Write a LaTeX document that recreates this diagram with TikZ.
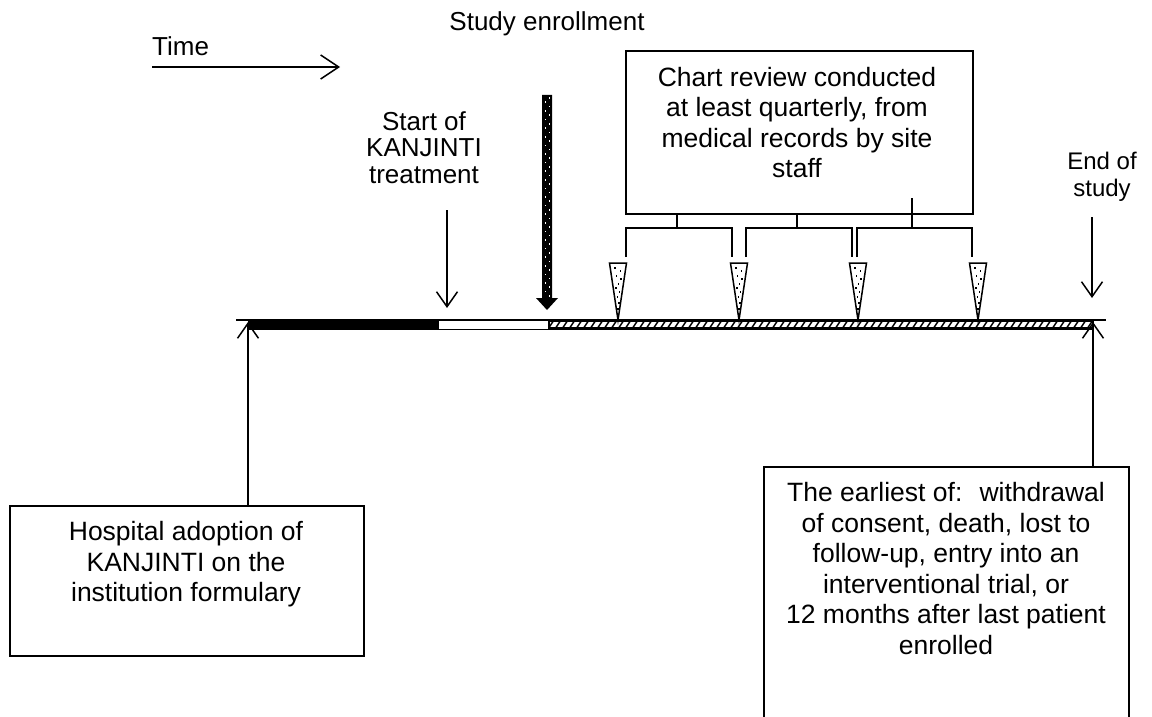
\documentclass[tikz,border=0pt]{standalone}
\usepackage{fontspec}
\setmainfont{Liberation Sans}
\usetikzlibrary{arrows.meta}
\begin{document}
\begin{tikzpicture}[x=1pt,y=-1pt,
  box/.style={draw,line width=1.6pt,fill=white,inner sep=0pt},
  boxtext/.style={align=center,inner sep=0pt,font=\fontsize{26.5}{30.5}\selectfont,anchor=north},
  lbl/.style={align=center,inner sep=0pt,font=\fontsize{26}{26.7}\selectfont,anchor=north},
  thinarrow/.style={line width=1.5pt,-{Straight Barb[length=15pt,width=21pt,line width=1.5pt]}},
  bracket/.style={line width=1.6pt},
  marker/.style={line width=1.5pt,fill=white},
  ]
\useasboundingbox (0,0) rectangle (1152,717);

% ---- Time arrow
\node[lbl,anchor=base west] (time) at (152,56) {Time};
\coordinate (ts) at (152,67);
\coordinate (te) at (340,67);
\draw[line width=1.5pt,-{Straight Barb[length=18pt,width=24pt,line width=1.5pt]}] (ts) -- (te);

% ---- labels
\node[lbl,anchor=base] (enrol) at (547,31) {Study enrollment};
\node[lbl] (start) at (424,111) {Start of\\KANJINTI\\treatment};
\node[lbl,font=\fontsize{24}{26.7}\selectfont] (end) at (1102,152.4) {End of\\study};

% ---- timeline
\coordinate (L) at (248,320);
\coordinate (A) at (438,320);
\coordinate (E) at (549,320);
\coordinate (R) at (1093,320);
\fill[black] (248,319) rectangle (438,330);
\draw[line width=1.2pt,fill=white] (438,320) rectangle (549,329.5);
\fill[white] (549,320) rectangle (1093,329);
\begin{scope}
  \clip (549,321.5) rectangle (1093,327.5);
  \foreach \x in {549,556,...,1100} \draw[line width=1.5pt] (\x,327.5) -- (\x+4,321.5);
\end{scope}
\draw[line width=2.4pt] (549,320.6) -- (1093,320.6);
\draw[line width=2.4pt] (549,328.6) -- (1093,328.6);
\draw[line width=1.2pt] (549,320) -- (549,329.5) (1093,320) -- (1093,329.5);
\draw[line width=1.5pt] (236,320) -- (1106,320);

% ---- boxes
\node[box,anchor=north west,minimum width=347pt,minimum height=163pt] (chart) at (625,50) {};
\node[boxtext] (charttext) at (797,66.6) {Chart review conducted\\at least quarterly, from\\medical records by site\\staff};
\node[box,anchor=north west,minimum width=354pt,minimum height=150pt] (hosp) at (9,505) {};
\node[boxtext] (hosptext) at (186,521.3) {Hospital adoption of\\KANJINTI on the\\institution formulary};
\node[box,anchor=north west,minimum width=365pt,minimum height=300pt] (endbox) at (763,466) {};
\node[boxtext] (endtext) at (946,482.3) {The earliest of:~ withdrawal\\of consent, death, lost to\\follow-up, entry into an\\interventional trial, or\\12 months after last patient\\enrolled};

% ---- thin arrows
\coordinate (sa) at (447,210);
\coordinate (sb) at (447,308);
\draw[thinarrow] (sa) -- (sb);
\coordinate (ea) at (1092,217);
\coordinate (eb) at (1092,298);
\draw[thinarrow] (ea) -- (eb);
\draw[thinarrow] (hosp.north -| L) -- ([yshift=-2pt]L);
\draw[thinarrow] (endbox.north -| R) -- ([yshift=-2pt]R);

% ---- study enrollment thick dotted arrow
\fill[black] (542,95) -- (552,95) -- (552,298) -- (558,298) -- (547,310) -- (536,298) -- (542,298) -- cycle;
\foreach \i in {0,...,46} {
  \pgfmathsetmacro{\yy}{98+\i*4.3}
  \pgfmathsetmacro{\xx}{mod(\i,2)==0 ? 549.5 : 545.3}
  \fill[white] (\xx-0.8,\yy-0.8) rectangle (\xx+0.8,\yy+0.8);
}

% ---- review markers
\foreach \m/\x in {m1/618,m2/739,m3/858,m4/978} {
  \coordinate (\m) at (\x,320);
  \draw[marker] (\x-8.5,263) -- (\x+8.5,263) -- (\m) -- cycle;
  \foreach \dx/\dy in {-3/268,2.5/271,-1.5/276,3/279,0.5/284,-2/288,1.5/292,-0.5/297,0.8/303,-0.3/309} {
    \fill[black] (\x+\dx-0.8,\dy-0.8) rectangle (\x+\dx+0.8,\dy+0.8);
  }
}

% ---- brackets
\draw[bracket] (626,257) -- (626,228) -- (732,228) -- (732,257);
\draw[bracket] (chart.south -| 677,0) -- (677,228);
\draw[bracket] (746,257) -- (746,228) -- (852,228) -- (852,257);
\draw[bracket] (chart.south -| 797,0) -- (797,228);
\draw[bracket] (857,257) -- (857,228) -- (972,228) -- (972,257);
\draw[bracket] (912,198) -- (912,228);
\end{tikzpicture}
\end{document}
